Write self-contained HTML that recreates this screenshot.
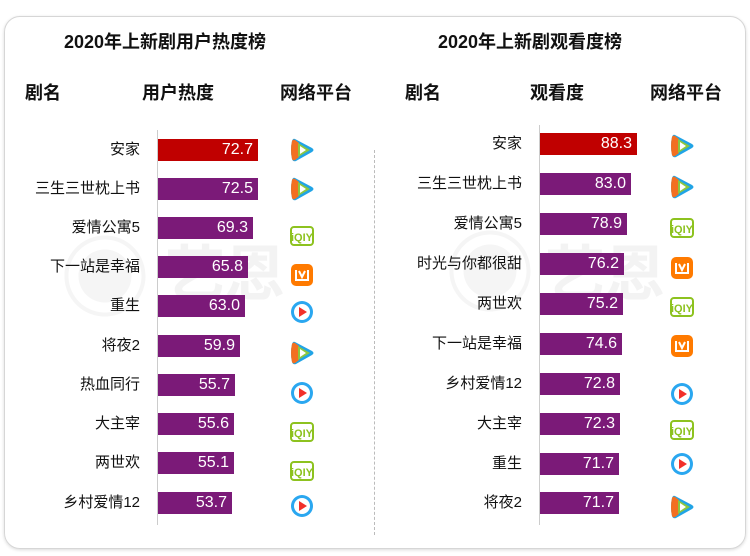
<!DOCTYPE html><html><head><meta charset="utf-8"><style>
*{margin:0;padding:0;box-sizing:border-box}
body{width:750px;height:556px;background:#fff;position:relative;overflow:hidden;font-family:"Liberation Sans","Noto Sans CJK SC",sans-serif;color:#111}
.card{position:absolute;left:4px;top:16px;width:742px;height:533px;border:1px solid #d6d6d6;border-radius:16px;box-shadow:0 1px 3px rgba(0,0,0,.15)}
.t{position:absolute;font-weight:bold;font-size:18px;white-space:nowrap;line-height:20px}
.h{position:absolute;font-weight:bold;font-size:18px;white-space:nowrap;line-height:20px}
.l{position:absolute;font-size:15px;text-align:right;width:150px;line-height:20px;white-space:nowrap}
.b{position:absolute;height:22px;color:#fff;font-size:16px;text-align:right;padding-right:5px;line-height:22px;background:#7b1a78}
.ax{position:absolute;width:1px;background:#ccc}
.ic{position:absolute;width:26px;height:24px}
.wm{position:absolute;color:#f3f3f3;font-weight:bold;font-size:60px;line-height:60px}
</style></head><body>
<div class="card"></div>
<div class="wm" style="left:60px;top:250px;font-size:90px;color:#f5f5f5">◉</div>
<div class="wm" style="left:165px;top:245px">艺恩</div>
<div class="wm" style="left:445px;top:245px;font-size:90px;color:#f5f5f5">◉</div>
<div class="wm" style="left:545px;top:245px">艺恩</div>
<div style="position:absolute;left:374px;top:150px;height:385px;border-left:1px dashed #bbb"></div>

<div class="t" style="left:64px;top:32px">2020年上新剧用户热度榜</div>
<div class="t" style="left:438px;top:32px">2020年上新剧观看度榜</div>
<div class="h" style="left:25px;top:83px">剧名</div>
<div class="h" style="left:142px;top:83px">用户热度</div>
<div class="h" style="left:280px;top:83px">网络平台</div>
<div class="h" style="left:405px;top:83px">剧名</div>
<div class="h" style="left:530px;top:83px">观看度</div>
<div class="h" style="left:650px;top:83px">网络平台</div>

<div class="ax" style="left:157px;top:130px;height:395px"></div>
<div class="ax" style="left:539px;top:125px;height:400px"></div>

<svg width="0" height="0" style="position:absolute"><defs>
<g id="tx"><path d="M6 1 Q4 0 3 3 Q1 12 3 21 Q4 24 7 23 L23 14 Q26 12 23 10Z" fill="#21a4e6"/><path d="M3 3 Q1 12 3 21 Q4 23 6 22 L10 19 L10 5 L6 2 Q4 1 3 3Z" fill="#f26f21"/><path d="M9 5 L21 12 L9 19Z" fill="#8dc63f"/><path d="M11 8 L17 12 L11 16Z" fill="#fff"/></g>
<g id="iq"><rect x="2" y="3" width="22" height="18" rx="3" fill="none" stroke="#8dc21f" stroke-width="2"/><text x="13" y="17" font-size="11" font-weight="bold" fill="#8dc21f" text-anchor="middle" font-family="Liberation Sans">iQIY</text></g>
<g id="mg"><rect x="2" y="1" width="22" height="22" rx="5" fill="#ff7a00"/><path d="M7 7 L7 17 L19 17 L19 7" fill="none" stroke="#fff" stroke-width="2"/><path d="M10 8 L13 14 L16 8" fill="none" stroke="#fff" stroke-width="2"/></g>
<g id="yk"><circle cx="13" cy="12" r="11" fill="#2aa7f0"/><circle cx="13" cy="12" r="8" fill="#fff"/><path d="M10 7 L18 12 L10 17Z" fill="#f2302a"/></g>
</defs></svg>

<!-- left -->
<div class="l" style="left:-10px;top:140px">安家</div><div class="b" style="left:158px;top:139px;width:100px;background:#c00000">72.7</div><svg class="ic" style="left:289px;top:138px"><use href="#tx"/></svg>
<div class="l" style="left:-10px;top:179px">三生三世枕上书</div><div class="b" style="left:158px;top:178px;width:100px">72.5</div><svg class="ic" style="left:289px;top:177px"><use href="#tx"/></svg>
<div class="l" style="left:-10px;top:218px">爱情公寓5</div><div class="b" style="left:158px;top:217px;width:95px">69.3</div><svg class="ic" style="left:289px;top:224px"><use href="#iq"/></svg>
<div class="l" style="left:-10px;top:257px">下一站是幸福</div><div class="b" style="left:158px;top:256px;width:90px">65.8</div><svg class="ic" style="left:289px;top:263px"><use href="#mg"/></svg>
<div class="l" style="left:-10px;top:296px">重生</div><div class="b" style="left:158px;top:295px;width:87px">63.0</div><svg class="ic" style="left:289px;top:300px"><use href="#yk"/></svg>
<div class="l" style="left:-10px;top:336px">将夜2</div><div class="b" style="left:158px;top:335px;width:82px">59.9</div><svg class="ic" style="left:289px;top:341px"><use href="#tx"/></svg>
<div class="l" style="left:-10px;top:375px">热血同行</div><div class="b" style="left:158px;top:374px;width:77px">55.7</div><svg class="ic" style="left:289px;top:381px"><use href="#yk"/></svg>
<div class="l" style="left:-10px;top:414px">大主宰</div><div class="b" style="left:158px;top:413px;width:76px">55.6</div><svg class="ic" style="left:289px;top:420px"><use href="#iq"/></svg>
<div class="l" style="left:-10px;top:453px">两世欢</div><div class="b" style="left:158px;top:452px;width:76px">55.1</div><svg class="ic" style="left:289px;top:459px"><use href="#iq"/></svg>
<div class="l" style="left:-10px;top:493px">乡村爱情12</div><div class="b" style="left:158px;top:492px;width:74px">53.7</div><svg class="ic" style="left:289px;top:494px"><use href="#yk"/></svg>

<!-- right -->
<div class="l" style="left:372px;top:134px">安家</div><div class="b" style="left:540px;top:133px;width:97px;background:#c00000">88.3</div><svg class="ic" style="left:669px;top:134px"><use href="#tx"/></svg>
<div class="l" style="left:372px;top:174px">三生三世枕上书</div><div class="b" style="left:540px;top:173px;width:91px">83.0</div><svg class="ic" style="left:669px;top:175px"><use href="#tx"/></svg>
<div class="l" style="left:372px;top:214px">爱情公寓5</div><div class="b" style="left:540px;top:213px;width:87px">78.9</div><svg class="ic" style="left:669px;top:216px"><use href="#iq"/></svg>
<div class="l" style="left:372px;top:254px">时光与你都很甜</div><div class="b" style="left:540px;top:253px;width:84px">76.2</div><svg class="ic" style="left:669px;top:256px"><use href="#mg"/></svg>
<div class="l" style="left:372px;top:294px">两世欢</div><div class="b" style="left:540px;top:293px;width:83px">75.2</div><svg class="ic" style="left:669px;top:295px"><use href="#iq"/></svg>
<div class="l" style="left:372px;top:334px">下一站是幸福</div><div class="b" style="left:540px;top:333px;width:82px">74.6</div><svg class="ic" style="left:669px;top:334px"><use href="#mg"/></svg>
<div class="l" style="left:372px;top:374px">乡村爱情12</div><div class="b" style="left:540px;top:373px;width:80px">72.8</div><svg class="ic" style="left:669px;top:382px"><use href="#yk"/></svg>
<div class="l" style="left:372px;top:414px">大主宰</div><div class="b" style="left:540px;top:413px;width:80px">72.3</div><svg class="ic" style="left:669px;top:418px"><use href="#iq"/></svg>
<div class="l" style="left:372px;top:454px">重生</div><div class="b" style="left:540px;top:453px;width:79px">71.7</div><svg class="ic" style="left:669px;top:452px"><use href="#yk"/></svg>
<div class="l" style="left:372px;top:493px">将夜2</div><div class="b" style="left:540px;top:492px;width:79px">71.7</div><svg class="ic" style="left:669px;top:495px"><use href="#tx"/></svg>
</body></html>
